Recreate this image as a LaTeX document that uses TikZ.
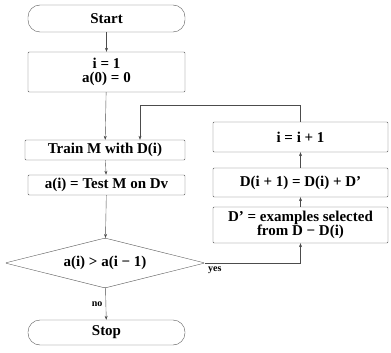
\documentclass[tikz,border=0pt]{standalone}
\usepackage{fontspec}
\setmainfont{Liberation Serif}
\usetikzlibrary{shapes.geometric,arrows.meta}

\tikzset{
  box/.style={draw=black!65, thin, rectangle, rounded corners=1pt, align=center,
    inner sep=1pt, font=\fontsize{15}{14}\selectfont\bfseries},
  term/.style={box, rounded corners=12pt},
  cond/.style={box, shape=diamond, aspect=4, inner sep=0pt},
  flow/.style={draw=black!70, thin, -{Stealth[length=4pt,width=3pt]}},
  lbl/.style={font=\fontsize{10}{10}\selectfont\bfseries}
}

\begin{document}
\begin{tikzpicture}[x=1pt, y=-1pt]
			%%%%% START %%%%%
			\useasboundingbox (0, 0) rectangle (391, 353);
			
			% main column
			\node[term, minimum width=157pt, minimum height=27pt] (start) at (106.5, 18.5) {Start};
			\node[box, minimum width=157pt, minimum height=40pt] (init) at (106.5, 72) {i = 1\\a(0) = 0};
			\node[box, minimum width=160pt, minimum height=20pt] (train) at (105, 150) {Train M with D(i)};
			\node[box, minimum width=157pt, minimum height=20pt] (test) at (106.5, 185) {a(i) = Test M on Dv};
			\node[cond, minimum width=200pt, minimum height=50pt] (check) at (105, 263) {a(i) > a(i − 1)};
			\node[term, minimum width=157pt, minimum height=25pt] (stop) at (106.5, 332.5) {Stop};
			
			% loop column
			\node[box, minimum width=175pt, minimum height=30pt] (incr) at (300.5, 137) {i = i + 1};
			\node[box, minimum width=175pt, minimum height=29pt] (upd) at (300.5, 182.5) {D(i + 1) = D(i) + D'};
			\node[box, minimum width=175pt, minimum height=36pt] (sel) at (300.5, 225) {D' = examples selected\\from D − D(i)};
			
			\coordinate (turn) at (sel.south |- check.east);
			\coordinate (top) at (incr.north |- 0, 105);
			\coordinate (back) at (140, 105);
			
			\draw[flow] (start) -- (init);
			\draw[flow] (init) -- (train);
			\draw[flow] (train) -- (test);
			\draw[flow] (test) -- (check);
			\draw[flow] (check) -- node[lbl, left, pos=0.5] {no} (stop);
			
			\draw[flow] (check.east) -- node[lbl, below, pos=0.1] {yes} (turn) -- (sel.south);
			\draw[flow] (sel) -- (upd);
			\draw[flow] (upd) -- (incr);
			\draw[flow] (incr.north) -- (top) -- (back) -- (back |- train.north);
			
			%%%%% END %%%%%
\end{tikzpicture}
\end{document}
